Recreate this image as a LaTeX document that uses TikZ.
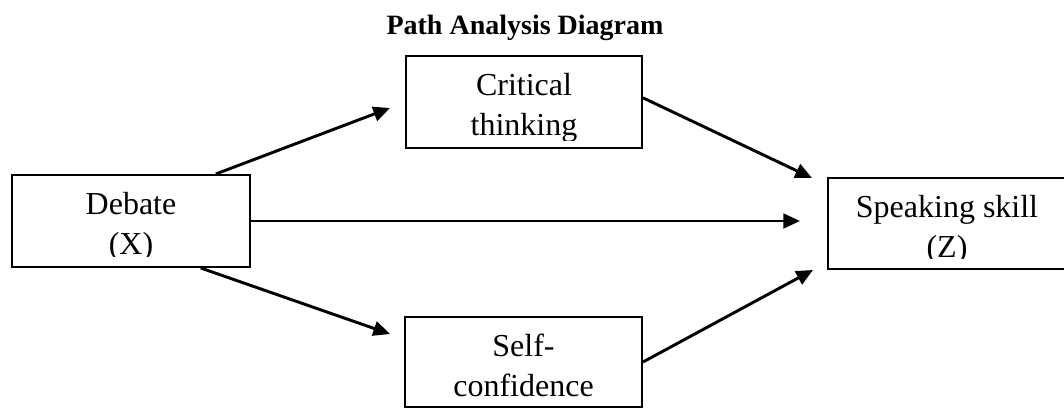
\documentclass[tikz,border=0pt]{standalone}
\usepackage{fontspec}
\setmainfont{Liberation Serif}
\usetikzlibrary{arrows.meta,calc}

\tikzset{
  varbox/.style={draw, line width=1.5pt, inner sep=0pt, minimum width=#1*0.75pt, minimum height=92*0.75pt},
  boxtext/.style={anchor=base, align=center, inner sep=0pt, font=\fontsize{24}{30}\selectfont},
  patharrow/.style={line width=2.2pt, -{Triangle[length=12.5pt,width=11pt]}},
}

\begin{document}
\begin{tikzpicture}[x=0.75pt,y=0.75pt,yscale=-1,xscale=1]
\useasboundingbox (0,0) rectangle (1064,409);

% Title
\node[anchor=base, font=\fontsize{21}{25}\selectfont\bfseries] (title) at (525,35) {Path Analysis Diagram};

% Boxes
\node[varbox=238] (debate) at (131,221) {};
\node[varbox=236] (critical) at (524,102) {};
\node[varbox=237, minimum height=90*0.75pt] (selfconf) at (523.5,362) {};
\node[varbox=238, minimum height=91*0.75pt] (speaking) at (947,223.5) {};

% Box texts, cut off at the lower margin (base = last line)
\begin{scope}
  \clip (debate.north west) rectangle ($(debate.south east)+(0,-11)$);
  \node[boxtext] (debatetxt) at (131,255) {Debate\\(X)};
\end{scope}
\begin{scope}
  \clip (critical.north west) rectangle ($(critical.south east)+(0,-8)$);
  \node[boxtext] (criticaltxt) at (524,136) {Critical\\thinking};
\end{scope}
\begin{scope}
  \clip (selfconf.north west) rectangle ($(selfconf.south east)+(0,-8)$);
  \node[boxtext] (selfconftxt) at (523.5,397) {Self-\\confidence};
\end{scope}
\begin{scope}
  \clip (speaking.north west) rectangle ($(speaking.south east)+(0,-11)$);
  \node[boxtext] (speakingtxt) at (947,258) {Speaking skill\\(Z)};
\end{scope}

% Arrow ends
\coordinate (endcrit) at (390,108);
\coordinate (endself) at (390,334);
\coordinate (endtop) at (812,178);
\coordinate (endmid) at (800,221);
\coordinate (endbot) at (813,270);

% Paths
\draw[patharrow] (debate.29) -- (endcrit);
\draw[patharrow] (debate.east) -- (endmid);
\draw[patharrow] (debate.-34) -- (endself);
\draw[patharrow] (critical.2) -- (endtop);
\draw[patharrow] (selfconf.east) -- (endbot);

\end{tikzpicture}
\end{document}
